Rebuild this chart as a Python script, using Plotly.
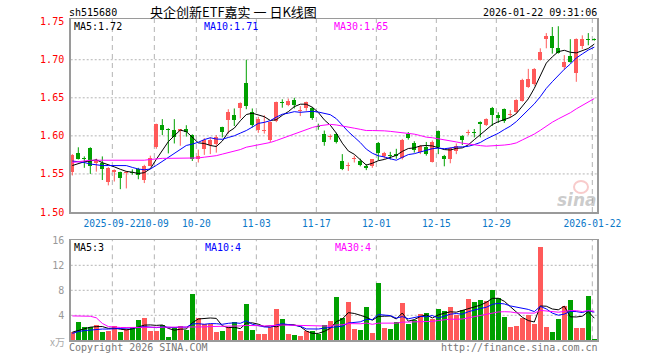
import plotly.graph_objects as go

# ---------------- data ----------------
opens = [1.552, 1.578, 1.571, 1.584, 1.564, 1.565, 1.540, 1.552, 1.552, 1.551,
         1.553, 1.556, 1.542, 1.561, 1.585, 1.614, 1.609, 1.608, 1.607, 1.609,
         1.601, 1.569, 1.583, 1.588, 1.589, 1.611, 1.621, 1.628, 1.637, 1.670,
         1.631, 1.608, 1.606, 1.594, 1.620, 1.644, 1.641, 1.647, 1.633, 1.636,
         1.636, 1.613, 1.603, 1.598, 1.603, 1.567, 1.560, 1.569, 1.567, 1.561,
         1.560, 1.590, 1.574, 1.575, 1.576, 1.571, 1.603, 1.591, 1.579, 1.586,
         1.566, 1.607, 1.574, 1.570, 1.580, 1.600, 1.604, 1.605, 1.618, 1.614,
         1.637, 1.628, 1.635, 1.627, 1.631, 1.646, 1.664, 1.668, 1.700, 1.727,
         1.731, 1.716, 1.691, 1.705, 1.682, 1.718, 1.727, 1.727]
highs = [1.576, 1.585, 1.573, 1.585, 1.570, 1.573, 1.559, 1.556, 1.553, 1.554,
         1.556, 1.558, 1.562, 1.574, 1.616, 1.622, 1.610, 1.622, 1.609, 1.614,
         1.602, 1.582, 1.597, 1.598, 1.601, 1.612, 1.635, 1.636, 1.644, 1.700,
         1.636, 1.625, 1.627, 1.619, 1.645, 1.648, 1.649, 1.650, 1.639, 1.645,
         1.638, 1.616, 1.607, 1.602, 1.604, 1.576, 1.565, 1.574, 1.570, 1.563,
         1.569, 1.592, 1.579, 1.579, 1.583, 1.596, 1.605, 1.593, 1.588, 1.592,
         1.594, 1.607, 1.575, 1.585, 1.590, 1.601, 1.608, 1.609, 1.619, 1.623,
         1.638, 1.631, 1.636, 1.634, 1.648, 1.675, 1.688, 1.689, 1.715, 1.735,
         1.743, 1.744, 1.706, 1.727, 1.728, 1.732, 1.735, 1.728]
lows = [1.548, 1.569, 1.558, 1.550, 1.553, 1.542, 1.535, 1.540, 1.530, 1.531,
        1.549, 1.543, 1.538, 1.560, 1.583, 1.601, 1.577, 1.590, 1.587, 1.599,
        1.567, 1.565, 1.575, 1.576, 1.578, 1.598, 1.603, 1.613, 1.623, 1.635,
        1.611, 1.604, 1.603, 1.592, 1.618, 1.637, 1.639, 1.636, 1.626, 1.633,
        1.621, 1.608, 1.587, 1.595, 1.590, 1.555, 1.554, 1.565, 1.560, 1.555,
        1.558, 1.568, 1.570, 1.569, 1.570, 1.569, 1.595, 1.578, 1.576, 1.574,
        1.565, 1.576, 1.560, 1.564, 1.576, 1.588, 1.601, 1.598, 1.598, 1.613,
        1.613, 1.617, 1.617, 1.624, 1.629, 1.645, 1.663, 1.666, 1.699, 1.715,
        1.708, 1.708, 1.687, 1.696, 1.671, 1.714, 1.719, 1.725]
closes = [1.575, 1.570, 1.570, 1.561, 1.567, 1.556, 1.5575, 1.555, 1.545, 1.553,
          1.551, 1.549, 1.560, 1.571, 1.615, 1.608, 1.608, 1.599, 1.608, 1.605,
          1.569, 1.573, 1.595, 1.595, 1.598, 1.605, 1.632, 1.621, 1.643, 1.639,
          1.614, 1.622, 1.608, 1.618, 1.644, 1.643, 1.646, 1.641, 1.634, 1.644,
          1.623, 1.612, 1.592, 1.599, 1.592, 1.557, 1.561, 1.570, 1.562, 1.558,
          1.569, 1.578, 1.578, 1.574, 1.573, 1.595, 1.597, 1.582, 1.587, 1.576,
          1.592, 1.585, 1.570, 1.584, 1.587, 1.595, 1.605, 1.604, 1.615, 1.622,
          1.628, 1.624, 1.619, 1.628, 1.647, 1.674, 1.675, 1.688, 1.710, 1.731,
          1.715, 1.709, 1.697, 1.697, 1.727, 1.727, 1.726, 1.726]
volumes = [1.28, 2.93, 2.08, 2.2, 2.45, 1.33, 1.49, 2.29, 1.33, 1.87,
           2.13, 3.25, 3.57, 1.49, 1.49, 2.45, 0.53, 2.13, 2.29, 1.65,
           7.41, 3.57, 2.61, 2.61, 1.33, 1.49, 2.08, 2.93, 1.49, 5.81,
           1.65, 1.01, 1.01, 2.08, 5.01, 3.41, 1.01, 0.85, 0.69, 1.49,
           1.49, 1.01, 2.45, 3.09, 6.93, 3.52, 6.13, 1.81, 1.65, 5.33,
           1.17, 9.17, 1.97, 1.81, 2.93, 5.97, 2.61, 3.25, 4.21, 4.37,
           3.41, 5.01, 4.69, 5.33, 4.05, 4.85, 6.61, 6.13, 6.45, 6.29,
           8.05, 6.72, 3.73, 2.13, 2.29, 3.57, 4.05, 2.61, 14.93, 2.13,
           1.33, 3.41, 5.49, 6.45, 1.97, 1.97, 7.09, 0.21]

# moving-average values before enough history is visible
ma5_head = [1.561, 1.564, 1.566, 1.567]
ma10_head = [1.567, 1.566, 1.565, 1.563, 1.562, 1.561, 1.561, 1.561, 1.561]
ma30_head = [1.565, 1.566, 1.567, 1.568, 1.568, 1.568, 1.568, 1.568, 1.568, 1.568,
             1.568, 1.568, 1.568, 1.569, 1.570, 1.5705, 1.5705, 1.5705, 1.571, 1.571,
             1.571, 1.571, 1.572, 1.573, 1.574, 1.576, 1.578, 1.580, 1.582]
vma5_head = [1.3, 1.6, 1.9, 2.1]
vma10_head = [1.1, 1.4, 1.55, 1.65, 1.75, 1.8, 1.8, 1.85, 1.85]
vma30_head = [3.9, 3.9, 3.9, 3.85, 3.6, 2.7, 2.2, 2.1, 2.05, 2.05,
              2.05, 2.05, 2.05, 2.05, 2.05, 2.05, 2.1, 2.1, 2.1, 2.1,
              2.1, 2.15, 2.15, 2.2, 2.2, 2.25, 2.25, 2.3, 2.3]

tick_pos = [7, 14, 21, 31, 41, 51, 61, 71, 87]
tick_labels = ["2025-09-22", "10-09", "10-20", "11-03", "11-17",
               "12-01", "12-15", "12-29", "2026-01-22"]
price_ticks = [1.50, 1.55, 1.60, 1.65, 1.70, 1.75]
vol_ticks = [4, 8, 12, 16]

title_text = "央企创新ETF嘉实 一 日K线图"
code_text = "sh515680"
time_text = "2026-01-22 09:31:06"
ma_texts = ["MA5:1.72", "MA10:1.71", "MA30:1.65"]
vma_texts = ["MA5:3", "MA10:4", "MA30:4"]

# ---------------- helpers ----------------
W, H = 660, 360
def px(x):
    return x / W
def py(y):
    return 1 - y / H

def moving_avg(vals, n, head):
    out = list(head)
    for i in range(n - 1, len(vals)):
        out.append(sum(vals[i - n + 1:i + 1]) / n)
    return out

RED = "#ff5a5a"
GREEN = "#00a000"
MONO = "DejaVu Sans Mono"
idx = list(range(len(closes)))
up = [c >= o for o, c in zip(opens, closes)]
colors = [RED if u else GREEN for u in up]

fig = go.Figure()

# wicks
for flag, col in ((True, RED), (False, GREEN)):
    xs, ys = [], []
    for i in idx:
        if up[i] == flag:
            xs += [i, i, None]
            ys += [lows[i], highs[i], None]
    fig.add_trace(go.Scatter(x=xs, y=ys, mode="lines", line=dict(color=col, width=1),
                             xaxis="x", yaxis="y", hoverinfo="skip", showlegend=False))

# bodies
body_base = [min(o, c) for o, c in zip(opens, closes)]
body_h = [max(abs(c - o), 0.0014) for o, c in zip(opens, closes)]
fig.add_trace(go.Bar(x=idx, y=body_h, base=body_base, marker=dict(color=colors, line=dict(width=0)),
                     width=0.72, xaxis="x", yaxis="y", showlegend=False))

# price MAs
for n, head, col in ((5, ma5_head, "black"), (10, ma10_head, "#0000ff"), (30, ma30_head, "#ff00ff")):
    fig.add_trace(go.Scatter(x=idx, y=moving_avg(closes, n, head), mode="lines",
                             line=dict(color=col, width=1), xaxis="x", yaxis="y", showlegend=False))

# volume
fig.add_trace(go.Bar(x=idx, y=volumes, marker=dict(color=colors, line=dict(width=0)),
                     width=0.76, xaxis="x2", yaxis="y2", showlegend=False))
for n, head, col in ((5, vma5_head, "black"), (10, vma10_head, "#0000ff"), (30, vma30_head, "#ff00ff")):
    fig.add_trace(go.Scatter(x=idx, y=moving_avg(volumes, n, head), mode="lines",
                             line=dict(color=col, width=1), xaxis="x2", yaxis="y2", showlegend=False))

XR = [-0.27, 87.45]
XD = [px(70.7), px(597)]
BORDER = "#9a9a9a"
grid_x = [p - 0.33 for p in tick_pos]

fig.update_layout(
    width=W, height=H, autosize=False,
    margin=dict(l=0, r=0, t=0, b=0, pad=0),
    paper_bgcolor="white", plot_bgcolor="white",
    barmode="overlay", bargap=0,
    xaxis=dict(domain=XD, range=XR, anchor="y", showgrid=False, zeroline=False, automargin=False,
               showline=True, linecolor=BORDER, linewidth=1.5, mirror=True,
               tickvals=grid_x, ticktext=tick_labels, ticks="", ticklabelstandoff=2, tickangle=0,
               tickfont=dict(family=MONO, size=9.6, color="#0a78c8")),
    yaxis=dict(domain=[py(212), py(19)], range=[1.50, 1.7535], anchor="x", showgrid=False,
               zeroline=False, showline=True, linecolor=BORDER, linewidth=1.5, mirror=True,
               automargin=False,
               tickvals=price_ticks, ticktext=["%.2f" % v for v in price_ticks], ticks="",
               ticklabelstandoff=3, tickfont=dict(family=MONO, size=10, color="#ff0000")),
    xaxis2=dict(domain=XD, range=XR, anchor="y2", showgrid=False, zeroline=False, automargin=False,
                showline=True, linecolor=BORDER, linewidth=1.5, mirror=True, showticklabels=False),
    yaxis2=dict(domain=[py(340.3), py(240)], range=[0, 16.05], anchor="x2", showgrid=False,
                zeroline=False, showline=True, linecolor=BORDER, linewidth=1.5, mirror=True,
                automargin=False,
                tickvals=vol_ticks, ticktext=[str(v) for v in vol_ticks], ticks="",
                ticklabelstandoff=3, tickfont=dict(family=MONO, size=10, color="#999999")),
)

shapes = []
GRID = "#b4b4b4"
for v in price_ticks[1:-1]:
    shapes.append(dict(type="line", xref="x domain", yref="y", x0=0, x1=1, y0=v, y1=v,
                       line=dict(color=GRID, width=1, dash="2px,2px"), layer="below"))
for v in vol_ticks[:-1]:
    shapes.append(dict(type="line", xref="x2 domain", yref="y2", x0=0, x1=1, y0=v, y1=v,
                       line=dict(color=GRID, width=1, dash="2px,2px"), layer="below"))
for gx in grid_x:
    shapes.append(dict(type="line", xref="x", yref="y domain", x0=gx, x1=gx, y0=0, y1=1,
                       line=dict(color=GRID, width=1, dash="5px,4px"), layer="below"))
    shapes.append(dict(type="line", xref="x2", yref="y2 domain", x0=gx, x1=gx, y0=0, y1=1,
                       line=dict(color=GRID, width=1, dash="5px,4px"), layer="below"))
# sina watermark eye
shapes.append(dict(type="circle", xref="paper", yref="paper", x0=px(574), x1=px(588),
                   y0=py(193), y1=py(181), line=dict(color="rgba(240,140,140,0.45)", width=2),
                   layer="below"))
fig.update_layout(shapes=shapes)

ann = []
def text(x, y, s, color="black", size=10, family=MONO, xanchor="left", **kw):
    ann.append(dict(x=px(x), y=py(y), xref="paper", yref="paper", text=s, showarrow=False,
                    xanchor=xanchor, yanchor="middle", borderpad=0,
                    font=dict(family=family, size=size, color=color), **kw))

text(68, 13, code_text)
text(149, 11, title_text, size=13, family="Noto Sans CJK SC")
text(598, 13, time_text, xanchor="right")
text(73, 27, ma_texts[0], "black")
text(203, 27, ma_texts[1], "#0000ff")
text(333, 27, ma_texts[2], "#ff00ff")
text(73, 247, vma_texts[0], "black")
text(204, 247, vma_texts[1], "#0000ff")
text(334, 247, vma_texts[2], "#ff00ff")
text(66, 341, "x万", "#aaaaaa", size=10, family="Noto Sans CJK SC", xanchor="right")
text(68, 347, "Copyright 2026 SINA.COM", "#777777")
text(599, 347, "http://finance.sina.com.cn", "#777777", xanchor="right")
text(598, 200, "<b><i>sina</i></b>", "rgba(160,160,160,0.55)", size=17, family="DejaVu Sans", xanchor="right")
fig.update_layout(annotations=ann)

fig.write_html("out.html", config={"displayModeBar": False, "staticPlot": True},
               post_script="document.body.style.margin='0px';")
